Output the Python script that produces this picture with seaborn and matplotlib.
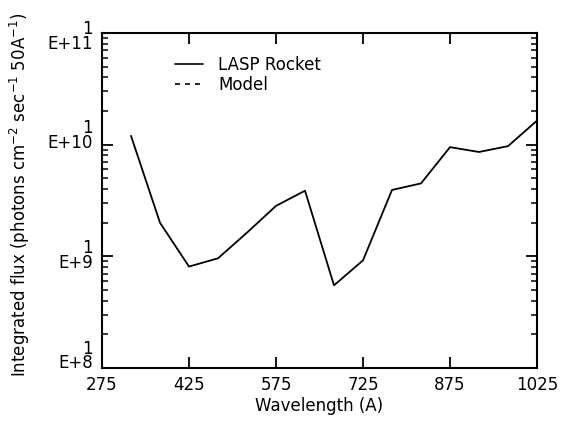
import numpy as np
import pandas as pd
import matplotlib
matplotlib.use("Agg")
import matplotlib.pyplot as plt
import matplotlib.transforms as mtransforms
import seaborn as sns
from matplotlib.lines import Line2D
from matplotlib.ticker import LogLocator, NullFormatter

# Data
wavelength = [325, 375, 425, 475, 525, 575, 625, 675, 725, 775, 825, 875, 925, 975, 1025]
flux_rocket = [1.2e10, 2.0e9, 8.1e8, 9.6e8, 1.63e9, 2.83e9, 3.87e9, 5.5e8, 9.2e8,
               3.93e9, 4.5e9, 9.5e9, 8.6e9, 9.7e9, 1.64e10]
xticks = [275, 425, 575, 725, 875, 1025]
yticks = [1e8, 1e9, 1e10, 1e11]
ytick_labels = ["1\nE+8", "1\nE+9", "1\nE+10", "1\nE+11"]

sns.set_theme(style="ticks")
plt.rcParams['font.family'] = ['DejaVu Sans']
plt.rcParams['text.color'] = 'black'
plt.rcParams['axes.labelcolor'] = 'black'
plt.rcParams['xtick.color'] = 'black'
plt.rcParams['ytick.color'] = 'black'

fig = plt.figure(figsize=(5.61, 4.25), dpi=100)
ax = fig.add_axes([102/561, 1-368/425, (537-102)/561, (368-33)/425])

df = pd.DataFrame({"Wavelength": wavelength, "Flux": flux_rocket})
sns.lineplot(data=df, x="Wavelength", y="Flux", ax=ax, color="black", linewidth=1.3)

ax.set_yscale("log")
ax.set_xlim(275, 1025)
ax.set_ylim(1e8, 1e11)
ax.set_xticks(xticks)
ax.set_xticklabels([str(t) for t in xticks], fontsize=12)
ax.set_yticks(yticks)
ax.set_yticklabels([])
# two-line tick labels drawn as text, positioned at the tick values
label_shift_px = [12, 1, 9, -3.5]  # upward pixel offsets, bottom to top
ytrans = ax.get_yaxis_transform()
for val, txt, dy in zip(yticks, ytick_labels, label_shift_px):
    off = mtransforms.ScaledTranslation(-9/100, dy/100, fig.dpi_scale_trans)
    ax.text(0, val, txt, transform=ytrans + off, ha="right", va="center",
            multialignment="right", fontsize=12, linespacing=0.75, clip_on=False)
ax.yaxis.set_minor_locator(LogLocator(base=10, subs=np.arange(2, 10)))
ax.yaxis.set_minor_formatter(NullFormatter())

ax.tick_params(axis="both", which="major", direction="in", length=8, width=1.3,
               top=True, right=True, colors="black", pad=6)
ax.tick_params(axis="y", which="minor", direction="in", length=4, width=1.1,
               left=True, right=True)
ax.tick_params(axis="x", which="minor", bottom=False, top=False)
for s in ax.spines.values():
    s.set_linewidth(1.5)
    s.set_color("black")
    s.set_visible(True)

ax.set_xlabel("Wavelength (A)", fontsize=12, labelpad=2)
ax.set_ylabel("")
fig.text(20/561, 1-195/425,
         "Integrated flux (photons cm$^{-2}$ sec$^{-1}$ 50A$^{-1}$)",
         rotation=90, ha="center", va="center", fontsize=12)

handles = [Line2D([], [], color="black", lw=1.2, linestyle="-"),
           Line2D([], [], color="black", lw=1.2, linestyle=(0, (3, 3)))]
ax.legend(handles, ["LASP Rocket", "Model"], loc="upper left",
          bbox_to_anchor=((175-102)/435, 1-(56-33)/335), frameon=False,
          fontsize=12, handlelength=1.7, handletextpad=0.9, labelspacing=0.1,
          borderaxespad=0, borderpad=0)

fig.savefig("out.png", dpi=100)
